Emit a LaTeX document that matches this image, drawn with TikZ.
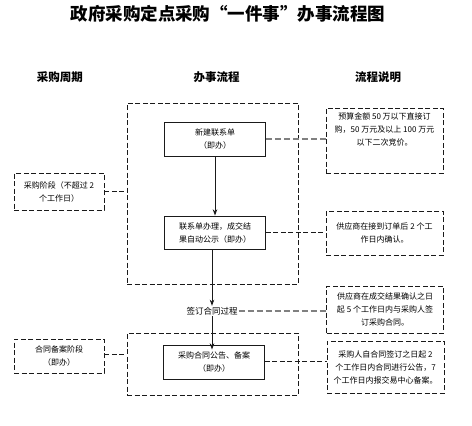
\documentclass[tikz,border=0pt]{standalone}
\usepackage{fontspec}
\setmainfont{Noto Sans CJK SC}
\usepackage{tikz}
\usetikzlibrary{arrows.meta,positioning,calc}
\definecolor{cLine}{HTML}{1A1A1A}
\definecolor{cGrey}{HTML}{808080}
\tikzset{
  stepbox/.style={draw=cLine, line width=0.9pt, align=center,
                  font=\fontsize{8}{13}\selectfont, minimum width=101pt,
                  minimum height=34pt, inner sep=2pt},
  notebox/.style={draw=cLine, line width=0.9pt, dash pattern=on 5pt off 2.5pt,
                  align=center, font=\fontsize{8}{13}\selectfont,
                  minimum width=117pt, inner sep=2pt},
  sidebox/.style={notebox, minimum width=90pt},
  frame/.style={draw=cLine, line width=0.9pt, dash pattern=on 5pt off 2.5pt},
  head/.style={font=\fontsize{11.5}{13}\selectfont\bfseries},
  flow/.style={-{Stealth[length=2.2mm, width=1.6mm]}, line width=0.9pt, draw=cLine},
  link/.style={line width=0.9pt, dash pattern=on 5pt off 2.5pt, draw=cLine},
  linkg/.style={line width=1.6pt, dash pattern=on 6pt off 3pt, draw=cGrey},
}

\begin{document}
\begin{tikzpicture}[x=1pt, y=-1pt]
  \useasboundingbox (0,0) rectangle (472,426);

  \node[font=\fontsize{17.5}{19}\selectfont\bfseries] (title) at (228,14) {政府采购定点采购“一件事”办事流程图};

  % column heads
  \node[head] (hcycle) at (60,77) {采购周期};
  \node[head] (hflow) at (216.5,77) {办事流程};
  \node[head] (hnote) at (378,77) {流程说明};

  % dashed frames round the two stages
  \node[frame, minimum width=171pt, minimum height=181pt] (pf1) at (212.5,193.5) {};
  \node[frame, minimum width=171pt, minimum height=62pt] (pf2) at (212.5,364) {};

  % steps
  \node[stepbox] (newsheet) at (215,139) {新建联系单\\（即办）};
  \node[stepbox, minimum height=33pt] (handle) at (215,232.5) {联系单办理，成交结\\果自动公示（即办）};
  \node[font=\fontsize{8.5}{13}\selectfont, inner sep=1pt] (sign) at (212,311) {签订合同过程};
  \node[stepbox] (publish) at (214,362) {采购合同公告、备案\\（即办）};

  % periods
  \node[sidebox, minimum height=37pt] (stage1) at (59,191.5) {采购阶段（不超过 2\\个工作日）};
  \node[sidebox, minimum height=34pt] (stage2) at (59,356) {合同备案阶段\\（即办）};

  % notes
  \node[notebox, minimum height=65pt] (note1) at (384.5,140.5)
    {\parbox[c][56pt][t]{110pt}{\centering 预算金额 50 万以下直接订\\购，50 万元及以上 100 万元\\以下二次竞价。}};
  \node[notebox, minimum height=44pt] (note2) at (384.5,233) {供应商在接到订单后 2 个工\\作日内确认。};
  \node[notebox, minimum height=47pt] (note3) at (385,309.5) {供应商在成交结果确认之日\\起 5 个工作日内与采购人签\\订采购合同。};
  \node[notebox, minimum height=52pt] (note4) at (385.5,367) {采购人自合同签订之日起 2\\个工作日内合同进行公告，7\\个工作日内报交易中心备案。};

  % flow
  \draw[flow] (newsheet) -- (handle);
  \draw[flow] (handle.south -| sign.north) -- (sign.north);
  \draw[flow] (sign.south) -- ([yshift=-5pt]publish.north -| sign.south);

  % links to notes and periods
  \draw[linkg] (newsheet.east) -- (newsheet.east -| note1.west);
  \draw[link] (handle.east) -- (handle.east -| note2.west);
  \draw[linkg] (sign.east) -- (sign.east -| note3.west);
  \draw[link] ([yshift=1pt]publish.east) -- ([yshift=1pt]publish.east -| note4.west);
  \draw[link] (stage1.east) -- (stage1.east -| pf1.west);
  \draw[link] ([yshift=2pt]stage2.east) -- ([yshift=2pt]stage2.east -| pf2.west);
\end{tikzpicture}
\end{document}
